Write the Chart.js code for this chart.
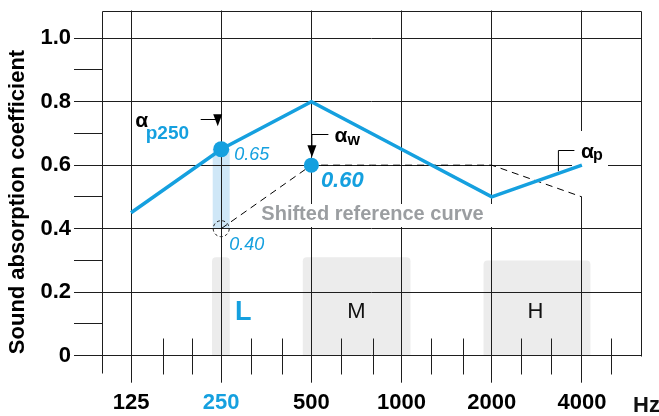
<!DOCTYPE html>
<html>
<head>
<meta charset="utf-8">
<script src="https://cdn.jsdelivr.net/npm/chart.js@4.4.1/dist/chart.umd.min.js"></script>
<style>
  html, body { margin: 0; padding: 0; background: #fff; }
  #wrap { width: 659px; height: 416px; }
</style>
</head>
<body>
<div id="wrap"><canvas id="absChart" width="659" height="416"></canvas></div>
<script>
// octave band centres and the measured practical absorption coefficients
const freqs = [125, 250, 500, 1000, 2000, 4000];
const measured = [0.45, 0.65, 0.80, 0.65, 0.50, 0.60];

// reference curve shifted down to the weighted value
const refFreqs = [250, 500, 1000, 2000, 4000];
const shiftedRef = [0.40, 0.60, 0.60, 0.60, 0.50];

// third-octave marks along the bottom
const thirdOctaves = [160, 200, 315, 400, 630, 800, 1250, 1600, 2500, 3150, 5000];
const yTicks = [0, 0.1, 0.2, 0.3, 0.4, 0.5, 0.6, 0.7, 0.8, 0.9, 1.0];

// L / M / H frequency ranges
const bandNames = ["L", "M", "H"];
const bandFrom = [233, 468, 1878];
const bandTo = [267, 1071, 4271];
const bandTop = [0.31, 0.31, 0.30];

const alphaP250 = 0.65;
const alphaW = 0.60;
const ref250 = 0.40;

const BLUE = "#15a0df";
const LINE = "#1e1e1e";
const FONT = "'Liberation Sans', Arial, sans-serif";

const overlay = {
  id: "overlay",
  beforeDraw(chart) {
    const { ctx } = chart;
    const xs = chart.scales.x, ys = chart.scales.y;
    ctx.save();
    // grey range boxes
    ctx.fillStyle = "#ececec";
    bandNames.forEach((n, i) => {
      const x0 = xs.getPixelForValue(bandFrom[i]);
      const x1 = xs.getPixelForValue(bandTo[i]);
      const y0 = ys.getPixelForValue(bandTop[i]);
      const y1 = ys.getPixelForValue(0);
      ctx.beginPath();
      ctx.roundRect(x0, y0, x1 - x0, y1 - y0, [4, 4, 0, 0]);
      ctx.fill();
    });
    // difference between alpha_p250 and the shifted curve
    const xb = xs.getPixelForValue(250);
    const ya = ys.getPixelForValue(alphaP250);
    const yr = ys.getPixelForValue(ref250);
    ctx.fillStyle = "#cfe7f7";
    ctx.fillRect(xb - 8.5, ya, 17, yr - ya);
    ctx.restore();
  },
  beforeDatasetsDraw(chart) {
    const { ctx, chartArea: a } = chart;
    const xs = chart.scales.x, ys = chart.scales.y;
    ctx.save();
    ctx.strokeStyle = LINE;
    ctx.lineWidth = 1;
    const y0 = Math.round(ys.getPixelForValue(0)) + 0.5;
    const top = Math.round(a.top) + 0.5;
    ctx.beginPath();
    // frame: top, right, left running below the axis
    ctx.moveTo(Math.round(a.left) + 0.5, top);
    ctx.lineTo(Math.round(a.right) + 0.5, top);
    ctx.lineTo(Math.round(a.right) + 0.5, y0);
    ctx.moveTo(Math.round(a.left) + 0.5, top);
    ctx.lineTo(Math.round(a.left) + 0.5, y0 + 17);
    // third-octave marks across the zero line
    thirdOctaves.forEach(f => {
      const x = Math.round(xs.getPixelForValue(f)) + 0.5;
      ctx.moveTo(x, y0 - 18);
      ctx.lineTo(x, y0 + 18);
    });
    ctx.stroke();

    // white backing behind labels
    ctx.fillStyle = "#fff";
    ctx.fillRect(260, 204, 235, 23);
    ctx.fillRect(572, 131, 36, 66);
    ctx.restore();
  },
  afterDatasetsDraw(chart) {
    const { ctx } = chart;
    const xs = chart.scales.x, ys = chart.scales.y;
    const x250 = xs.getPixelForValue(250);
    const x500 = xs.getPixelForValue(500);
    const x4000 = xs.getPixelForValue(4000);
    const yP = ys.getPixelForValue(alphaP250);
    const yW = ys.getPixelForValue(alphaW);
    const yR = ys.getPixelForValue(ref250);
    const yP4000 = ys.getPixelForValue(measured[5]);

    ctx.save();
    // dashed circle on the shifted curve at 250 Hz
    ctx.strokeStyle = LINE;
    ctx.lineWidth = 1;
    ctx.setLineDash([3, 2.5]);
    ctx.beginPath();
    ctx.arc(x250, yR, 8, 0, Math.PI * 2);
    ctx.stroke();
    ctx.setLineDash([]);

    function arrow(xa, ya, xt, yTip) {
      ctx.strokeStyle = "#000";
      ctx.fillStyle = "#000";
      ctx.lineWidth = 1;
      ctx.beginPath();
      ctx.moveTo(xa, ya);
      ctx.lineTo(xt, ya);
      ctx.lineTo(xt, yTip - 11);
      ctx.stroke();
      ctx.beginPath();
      ctx.moveTo(xt - 4.5, yTip - 12);
      ctx.lineTo(xt + 4.5, yTip - 12);
      ctx.lineTo(xt, yTip);
      ctx.closePath();
      ctx.fill();
    }
    arrow(x250 - 20.5, 119.5, x250 - 3.5, yP - 23);
    arrow(x500 + 17, 134.5, x500 + 0.5, yW - 8);

    // alpha_p bracket
    ctx.strokeStyle = "#000";
    ctx.beginPath();
    ctx.moveTo(x4000 - 7.5, 150.5);
    ctx.lineTo(x4000 - 23.5, 150.5);
    ctx.lineTo(x4000 - 23.5, yP4000 + 6);
    ctx.stroke();

    ctx.textBaseline = "alphabetic";
    ctx.textAlign = "left";
    ctx.fillStyle = "#000";
    ctx.font = "bold 21px " + FONT;
    ctx.fillText("α", x250 - 86, 127);
    ctx.fillText("α", x500 + 23, 142);
    ctx.fillText("α", x4000 - 1, 158);
    ctx.font = "bold 16px " + FONT;
    ctx.fillText("w", x500 + 36, 145);
    ctx.fillText("p", x4000 + 11, 160);

    ctx.fillStyle = BLUE;
    ctx.font = "bold 19px " + FONT;
    ctx.fillText("p250", x250 - 75.5, 138.5);
    ctx.font = "italic 18px " + FONT;
    ctx.fillText("0.65", x250 + 13, 160);
    ctx.fillText("0.40", x250 + 8, 250);
    ctx.font = "bold italic 22px " + FONT;
    ctx.fillText("0.60", x500 + 9.5, 186.5);

    ctx.textAlign = "center";
    ctx.fillStyle = "#9b9ea1";
    ctx.font = "bold 20px " + FONT;
    ctx.fillText("Shifted reference curve", 372.5, 220);

    // range letters
    ctx.fillStyle = BLUE;
    ctx.font = "bold 27px " + FONT;
    ctx.fillText(bandNames[0], x250 + 22, 319.5);
    ctx.fillStyle = "#111";
    ctx.font = "22px " + FONT;
    ctx.fillText(bandNames[1], 356.5, 317.5);
    ctx.fillText(bandNames[2], 535.5, 317.5);

    ctx.textAlign = "left";
    ctx.font = "bold 22px " + FONT;
    ctx.fillText("Hz", 633, 411.5);

    // y axis title, set a little below the middle of the plot
    ctx.translate(18, 202);
    ctx.rotate(-Math.PI / 2);
    ctx.textAlign = "center";
    ctx.textBaseline = "middle";
    ctx.fillStyle = "#000";
    ctx.font = "bold 22px " + FONT;
    ctx.fillText("Sound absorption coefficient", 0, 0);
    ctx.restore();
  }
};

const ctx = document.getElementById("absChart").getContext("2d");
new Chart(ctx, {
  type: "line",
  data: {
    datasets: [
      {
        label: "Measured",
        data: freqs.map((f, i) => ({ x: f, y: measured[i] })),
        borderColor: BLUE,
        backgroundColor: BLUE,
        borderWidth: 3.5,
        tension: 0,
        pointRadius: freqs.map(f => (f === 250 ? 8 : 0)),
        pointBorderWidth: 0,
        pointBackgroundColor: BLUE,
        order: 1
      },
      {
        label: "Shifted reference curve",
        data: refFreqs.map((f, i) => ({ x: f, y: shiftedRef[i] })),
        borderColor: "#000",
        borderWidth: 1,
        borderDash: [7, 5],
        tension: 0,
        pointRadius: refFreqs.map(f => (f === 500 ? 7.5 : 0)),
        pointBorderWidth: 0,
        pointBackgroundColor: BLUE,
        order: 2
      }
    ]
  },
  options: {
    responsive: false,
    animation: false,
    layout: { padding: { left: 0, right: 18, top: 10.5, bottom: 0 } },
    plugins: {
      legend: { display: false },
      tooltip: { enabled: false }
    },
    scales: {
      x: {
        type: "logarithmic",
        min: 100,
        max: 6300,
        afterBuildTicks: s => { s.ticks = freqs.map(v => ({ value: v })); },
        afterFit: s => { s.height = 60.3; },
        border: { display: false },
        grid: {
          color: LINE,
          lineWidth: 1,
          tickLength: 27,
          tickColor: LINE
        },
        ticks: {
          autoSkip: false,
          maxRotation: 0,
          padding: 7,
          color: c => (c.tick && c.tick.value === 250 ? BLUE : "#000"),
          font: { family: FONT, size: 22, weight: "bold" },
          callback: v => String(v)
        }
      },
      y: {
        min: 0,
        max: 1.087,
        afterBuildTicks: s => { s.ticks = yTicks.map(v => ({ value: v })); },
        afterFit: s => {
          s.width = 102;
          s.paddingTop = 0;
          s.paddingBottom = 0;
        },
        border: { display: false },
        grid: {
          color: c => (c.index % 2 === 0 ? LINE : "rgba(0,0,0,0)"),
          tickColor: LINE,
          lineWidth: 1,
          tickLength: 28
        },
        ticks: {
          autoSkip: false,
          padding: 3,
          color: "#000",
          font: { family: FONT, size: 22, weight: "bold" },
          callback: (v, i) => (i % 2 !== 0 ? "" : v === 0 ? "0" : v.toFixed(1))
        }
      }
    }
  },
  plugins: [overlay]
});
</script>
</body>
</html>
